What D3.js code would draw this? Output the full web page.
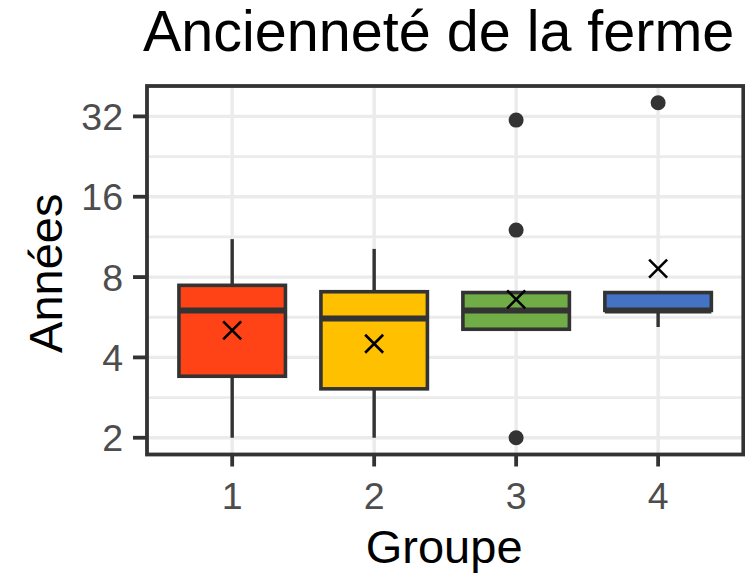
<!DOCTYPE html>
<html><head><meta charset="utf-8">
<script src="https://cdn.jsdelivr.net/npm/d3@7"></script>
<style>body{margin:0;background:#fff}svg{display:block}text{font-family:"Liberation Sans",Arial,sans-serif}</style>
</head><body><svg id="c" width="745" height="575"></svg>
<script>
const groups = ["1","2","3","4"];
const colors = ["#FF4316","#FFC000","#70AD47","#4472C4"];
const whiskerLow = [2, 2, 5.1, 5.2];
const q1 = [3.4, 3.05, 5.1, 6];
const medians = [6, 5.6, 6, 6];
const q3 = [7.45, 7.05, 7, 7];
const whiskerHigh = [11.1, 10.2, 7, 7];
const means = [5.05, 4.5, 6.6, 8.6];
const outliers = [[], [], [2, 12, 31], [36]];
const yTicks = [2, 4, 8, 16, 32];
const title = "Ancienneté de la ferme";
const xTitle = "Groupe";
const yTitle = "Années";

const svg = d3.select("#c");
const L = 147, R = 743.3, T = 86, B = 454.5;
const allVals = whiskerLow.concat(whiskerHigh, outliers.flat());
const lmin = Math.log2(d3.min(allVals)), lmax = Math.log2(d3.max(allVals));
const ex = (lmax - lmin) * 0.05;
const y = d3.scaleLog().base(2).domain([2 ** (lmin - ex), 2 ** (lmax + ex)]).range([B, T]);
const x = d3.scaleLinear().domain([0.4, groups.length + 0.6]).range([L, R]);
const unit = x(1) - x(0);
const line = "#333333";

// grid
const minor = [];
for (let i = 0; i < yTicks.length - 1; i++) minor.push(Math.sqrt(yTicks[i] * yTicks[i + 1]));
minor.push(Math.sqrt(yTicks[yTicks.length-1] * yTicks[yTicks.length-1]*2));
const g = svg.append("g");
g.selectAll(".mn").data(minor.filter(v => y(v) > T && y(v) < B)).join("line")
  .attr("x1", L).attr("x2", R).attr("y1", d => y(d)).attr("y2", d => y(d))
  .attr("stroke", "#EBEBEB").attr("stroke-width", 2.8);
g.selectAll(".mj").data(yTicks).join("line")
  .attr("x1", L).attr("x2", R).attr("y1", d => y(d)).attr("y2", d => y(d))
  .attr("stroke", "#EBEBEB").attr("stroke-width", 3.4);
g.selectAll(".vx").data(groups).join("line")
  .attr("x1", (d, i) => x(i + 1)).attr("x2", (d, i) => x(i + 1)).attr("y1", T).attr("y2", B)
  .attr("stroke", "#EBEBEB").attr("stroke-width", 3.4);

// boxes
groups.forEach((gname, i) => {
  const cx = x(i + 1), hw = unit * 0.75 / 2;
  const bg = svg.append("g");
  bg.append("line").attr("x1", cx).attr("x2", cx).attr("y1", y(q3[i])).attr("y2", y(whiskerHigh[i]))
    .attr("stroke", line).attr("stroke-width", 3.4);
  bg.append("line").attr("x1", cx).attr("x2", cx).attr("y1", y(q1[i])).attr("y2", y(whiskerLow[i]))
    .attr("stroke", line).attr("stroke-width", 3.4);
  bg.append("rect").attr("x", cx - hw).attr("width", 2 * hw)
    .attr("y", y(q3[i])).attr("height", y(q1[i]) - y(q3[i]))
    .attr("fill", colors[i]).attr("stroke", line).attr("stroke-width", 3.6);
  bg.append("line").attr("x1", cx - hw).attr("x2", cx + hw).attr("y1", y(medians[i])).attr("y2", y(medians[i]))
    .attr("stroke", line).attr("stroke-width", 6);
  outliers[i].forEach(v => {
    bg.append("circle").attr("cx", cx).attr("cy", y(v)).attr("r", 7.5).attr("fill", line);
  });
  const my = y(means[i]), s = 9;
  bg.append("path").attr("d", `M${cx - s},${my - s}L${cx + s},${my + s}M${cx - s},${my + s}L${cx + s},${my - s}`)
    .attr("stroke", "#000").attr("stroke-width", 2.6).attr("fill", "none");
});

// border
svg.append("rect").attr("x", L).attr("y", T).attr("width", R - L).attr("height", B - T)
  .attr("fill", "none").attr("stroke", line).attr("stroke-width", 3.8);

// axes ticks
svg.selectAll(".yt").data(yTicks).join("line")
  .attr("x1", L - 14).attr("x2", L).attr("y1", d => y(d)).attr("y2", d => y(d))
  .attr("stroke", line).attr("stroke-width", 3.8);
svg.selectAll(".ytl").data(yTicks).join("text")
  .attr("x", 123).attr("y", d => y(d) + 13.5).attr("text-anchor", "end")
  .attr("font-size", 37.5).attr("fill", "#4D4D4D").text(d => d);
svg.selectAll(".xt").data(groups).join("line")
  .attr("x1", (d, i) => x(i + 1)).attr("x2", (d, i) => x(i + 1)).attr("y1", B).attr("y2", B + 12)
  .attr("stroke", line).attr("stroke-width", 3.8);
svg.selectAll(".xtl").data(groups).join("text")
  .attr("x", (d, i) => x(i + 1)).attr("y", 509).attr("text-anchor", "middle")
  .attr("font-size", 37.5).attr("fill", "#4D4D4D").text(d => d);

// titles
svg.append("text").attr("x", 143).attr("y", 51).attr("font-size", 57.5).attr("fill", "#000").text(title);
svg.append("text").attr("x", (L + R) / 2 - 1).attr("y", 563).attr("text-anchor", "middle")
  .attr("font-size", 47).attr("fill", "#000").text(xTitle);
svg.append("text").attr("transform", `translate(62,${(T + B) / 2 + 3}) rotate(-90)`).attr("text-anchor", "middle")
  .attr("font-size", 47).attr("fill", "#000").text(yTitle);
</script></body></html>
